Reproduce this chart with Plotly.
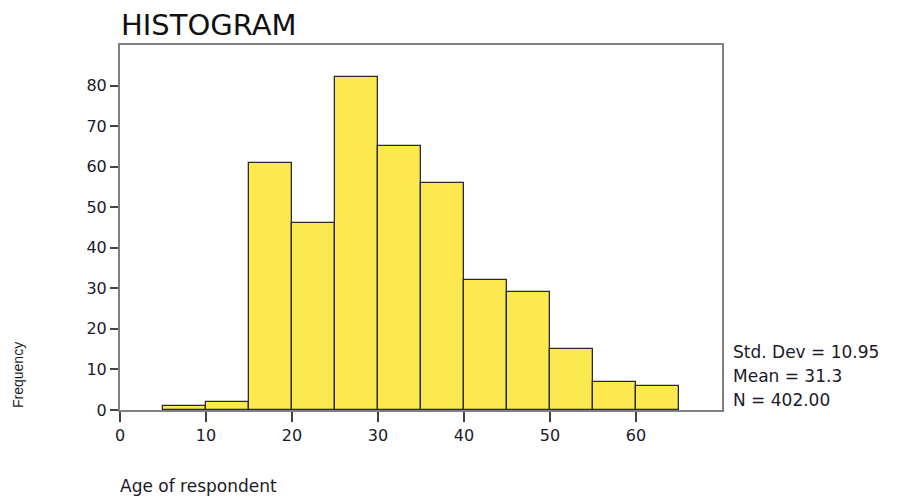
import plotly.graph_objects as go

bin_starts = [5, 10, 15, 20, 25, 30, 35, 40, 45, 50, 55, 60]
bin_width = 5
frequencies = [1, 2, 61, 46, 82, 65, 56, 32, 29, 15, 7, 6]
x_ticks = [0, 10, 20, 30, 40, 50, 60]
y_ticks = [0, 10, 20, 30, 40, 50, 60, 70, 80]
stats_lines = ["Std. Dev = 10.95", "Mean = 31.3", "N = 402.00"]

centers = [s + bin_width / 2 for s in bin_starts]
font_main = "DejaVu Sans, Verdana, sans-serif"

fig = go.Figure()
fig.add_trace(go.Bar(
    x=centers, y=frequencies, width=[bin_width] * len(centers),
    marker=dict(color="#FCE84F", line=dict(color="#2b2b2b", width=1.3)),
    showlegend=False, hoverinfo="x+y",
))

# page body has an 8px default margin, so the figure is offset by 8px
fig.update_layout(
    width=893, height=490,
    margin=dict(l=112, r=179, t=37, b=88),
    paper_bgcolor="white", plot_bgcolor="white",
    font=dict(family=font_main, size=16, color="#1a1a2a"),
    bargap=0,
    xaxis=dict(range=[0, 70], tickvals=x_ticks, ticks="outside", ticklen=10,
               tickcolor="#444", tickwidth=1.5, showgrid=False, zeroline=False,
               showline=True, linecolor="#808080", linewidth=2, mirror=True,
               tickfont=dict(size=16, family=font_main)),
    yaxis=dict(range=[0, 90], tickvals=y_ticks, ticks="outside", ticklen=8,
               tickcolor="#444", tickwidth=1.5, showgrid=False, zeroline=False,
               showline=True, linecolor="#808080", linewidth=2, mirror=True,
               tickfont=dict(size=16, family=font_main)),
)

fig.add_annotation(text="HISTOGRAM", xref="paper", yref="paper", x=0, y=1,
                   xshift=-1, yshift=1, xanchor="left", yanchor="bottom",
                   showarrow=False, font=dict(size=29, family=font_main, color="#111"))

for i, line in enumerate(stats_lines):
    fig.add_annotation(text=line, xref="paper", yref="paper", x=1, y=0,
                       xshift=9, yshift=58 - 24 * i, xanchor="left", yanchor="middle",
                       showarrow=False, font=dict(size=17, family=font_main, color="#1a1a2a"))

fig.add_annotation(text="Age of respondent", xref="paper", yref="paper", x=0, y=0,
                   xshift=-2, yshift=-76, xanchor="left", yanchor="middle", showarrow=False,
                   font=dict(size=17, family=font_main, color="#1a1a2a"))

fig.add_annotation(text="Frequency", xref="paper", yref="paper", x=0, y=0,
                   xshift=-102, yshift=35, textangle=-90, xanchor="center", yanchor="middle",
                   showarrow=False,
                   font=dict(size=14, family="Liberation Sans Narrow, Arial Narrow, sans-serif", color="#1a1a2a"))

fig.write_html("out.html")
